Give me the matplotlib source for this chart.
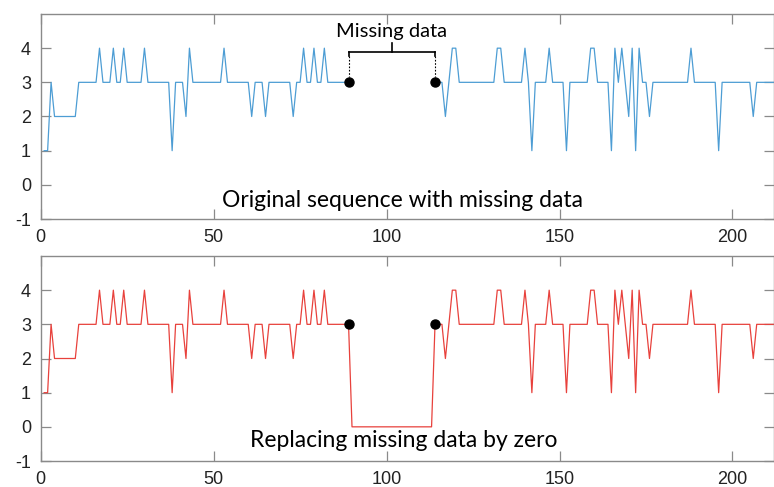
import numpy as np
import matplotlib.pyplot as plt

plt.rcParams["font.family"] = ["Liberation Sans", "DejaVu Sans"]
plt.rcParams["axes.unicode_minus"] = False

# Sequence values before the gap (x = 1..89)
values_before = [
    1, 1, 3, 2, 2, 2, 2, 2, 2, 2,
    3, 3, 3, 3, 3, 3, 4, 3, 3, 3,
    4, 3, 3, 4, 3, 3, 3, 3, 3, 4,
    3, 3, 3, 3, 3, 3, 3, 1, 3, 3,
    3, 2, 4, 3, 3, 3, 3, 3, 3, 3,
    3, 3, 4, 3, 3, 3, 3, 3, 3, 3,
    2, 3, 3, 3, 2, 3, 3, 3, 3, 3,
    3, 3, 2, 3, 3, 4, 3, 3, 4, 3,
    3, 4, 3, 3, 3, 3, 3, 3, 3,
]
# Sequence values after the gap (x = 114..212)
values_after = [
    3, 3, 3, 2, 3, 4, 4,
    3, 3, 3, 3, 3, 3, 3, 3, 3, 3,
    3, 4, 4, 3, 3, 3, 3, 3, 3, 4,
    3, 1, 3, 3, 3, 3, 4, 3, 3, 3,
    3, 1, 3, 3, 3, 3, 3, 3, 4, 4,
    3, 3, 3, 3, 1, 4, 3, 4, 3, 2,
    4, 1, 4, 3, 3, 2, 3, 3, 3, 3,
    3, 3, 3, 3, 3, 3, 3, 4, 3, 3,
    3, 3, 3, 3, 3, 1, 3, 3, 3, 3,
    3, 3, 3, 3, 3, 2, 3, 3, 3, 3,
    3, 3,
]
gap_start, gap_end = 90, 113          # missing indices (inclusive)
x_ticks = [0, 50, 100, 150, 200]
y_ticks = [-1, 0, 1, 2, 3, 4]
title_top = "Original sequence with missing data"
title_bottom = "Replacing missing data by zero"
gap_label = "Missing data"

x_before = np.arange(1, 1 + len(values_before))
x_gap = np.arange(gap_start, gap_end + 1)
x_after = np.arange(gap_end + 1, gap_end + 1 + len(values_after))
zero_fill = np.zeros(len(x_gap))

x_full = np.concatenate([x_before, x_gap, x_after])
y_full = np.concatenate([values_before, zero_fill, values_after])

blue = "#4d9dd4"
red = "#e8413c"
spine_c = "#8a8a8a"

fig = plt.figure(figsize=(7.74, 4.87), dpi=100)
W, H = 774, 487
left = 40.7 / W
width = 1.0 - left
ax1 = fig.add_axes([left, (H - 219) / H, width, 205 / H])
ax2 = fig.add_axes([left, (H - 461) / H, width, 205 / H])

text_font = "Lato"

for ax in (ax1, ax2):
    ax.set_xlim(0, 212)
    ax.set_ylim(-1, 5)
    ax.set_xticks(x_ticks)
    ax.set_yticks(y_ticks)
    ax.tick_params(direction="in", length=7.5, width=0.9, color=spine_c,
                   top=True, right=True, labelsize=13, pad=7,
                   labelcolor="#222222")
    for s in ax.spines.values():
        s.set_color(spine_c)
        s.set_linewidth(1.0)

# Top: original with gap
ax1.plot(x_before, values_before, color=blue, lw=0.9)
ax1.plot(x_after, values_after, color=blue, lw=0.9)
x_dot_l, x_dot_r = x_before[-1], x_after[0]
ax1.plot([x_dot_l, x_dot_r], [values_before[-1], values_after[0]], "o",
         color="black", ms=6.5, zorder=5)
# bracket
yb = 3.9
xm = (x_dot_l + x_dot_r) / 2
ax1.plot([x_dot_l, x_dot_r], [yb, yb], color="black", lw=1.2)
ax1.plot([xm, xm], [yb, 4.15], color="black", lw=1.2)
for xd in (x_dot_l, x_dot_r):
    ax1.plot([xd, xd], [yb, 3.77], color="black", lw=1.2)
    ax1.plot([xd, xd], [3.77, 3.17], color="black", lw=0.8, ls=(0, (1.5, 1.5)))
ax1.text(xm, 4.5, gap_label, ha="center", va="center", fontsize=14.5,
         family=text_font)
ax1.text(104.5, -0.45, title_top, ha="center", va="center", fontsize=16.5,
         family=text_font)

# Bottom: zero-filled
ax2.plot(x_full, y_full, color=red, lw=0.9)
ax2.plot([x_dot_l, x_dot_r], [values_before[-1], values_after[0]], "o",
         color="black", ms=6.5, zorder=5)
ax2.text(105, -0.4, title_bottom, ha="center", va="center", fontsize=16.5,
         family=text_font)

fig.savefig("out.png", dpi=100)
